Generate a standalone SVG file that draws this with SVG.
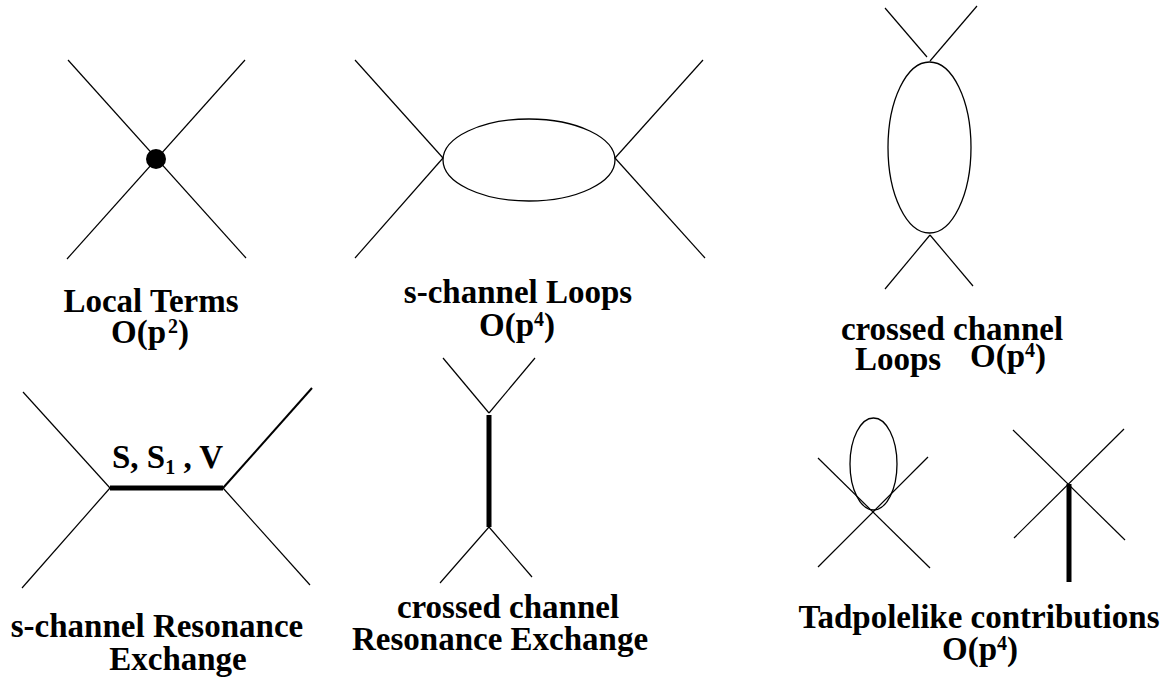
<svg xmlns="http://www.w3.org/2000/svg" width="1170" height="684" viewBox="0 0 1170 684">
<style>
.l{stroke:#000;stroke-width:1.2;fill:none}
.t{stroke:#000;stroke-width:5;fill:none}
.e{stroke:#000;stroke-width:1.3;fill:none}
text{font-family:"Liberation Serif","Times New Roman",serif;font-weight:bold;font-size:33px;fill:#000}
.sup{font-size:20px}
</style>
<rect width="1170" height="684" fill="#fff"/>
<g id="connectors">
<line class="l" x1="68" y1="60" x2="246" y2="258"/>
<line class="l" x1="245" y1="60" x2="67" y2="259"/>
<line class="l" x1="355" y1="60" x2="443" y2="158"/>
<line class="l" x1="443" y1="158" x2="355" y2="258"/>
<line class="l" x1="615" y1="158" x2="703" y2="60"/>
<line class="l" x1="615" y1="158" x2="705" y2="258"/>
<line class="l" x1="885" y1="8" x2="927" y2="57"/>
<line class="l" x1="977" y1="6" x2="930" y2="61"/>
<line class="l" x1="930" y1="235" x2="885" y2="289"/>
<line class="l" x1="930" y1="235" x2="973" y2="286"/>
<line class="l" x1="23" y1="392" x2="110" y2="488"/>
<line class="l" x1="110" y1="488" x2="22" y2="588"/>
<line class="l" x1="223" y1="488" x2="312" y2="388" style="stroke-width:2"/>
<line class="l" x1="223" y1="488" x2="310" y2="585"/>
<line class="t" x1="110" y1="488" x2="223" y2="488"/>
<line class="l" x1="443" y1="358" x2="489" y2="413"/>
<line class="l" x1="535" y1="358" x2="489" y2="413"/>
<line class="t" x1="489" y1="415" x2="489" y2="527"/>
<line class="l" x1="489" y1="527" x2="440" y2="583"/>
<line class="l" x1="489" y1="527" x2="532" y2="577"/>
<line class="l" x1="818" y1="458" x2="930" y2="568"/>
<line class="l" x1="928" y1="457" x2="818" y2="567"/>
<line class="l" x1="1013" y1="430" x2="1125" y2="540"/>
<line class="l" x1="1124" y1="429" x2="1014" y2="538"/>
<line class="t" x1="1069" y1="484" x2="1069" y2="582"/>
</g>
<g id="local-terms">
<circle cx="156" cy="159" r="10" fill="#000"/>
<text x="151" y="312" text-anchor="middle">Local Terms</text>
<text x="150" y="343" text-anchor="middle">O(p<tspan class="sup" dx="2" dy="-10">2</tspan><tspan dy="10">)</tspan></text>
</g>
<g id="s-channel-loops">
<ellipse class="e" cx="529" cy="160" rx="86" ry="41"/>
<text x="518" y="303" text-anchor="middle">s-channel Loops</text>
<text x="517" y="336" text-anchor="middle">O(p<tspan class="sup" dy="-10">4</tspan><tspan dy="10">)</tspan></text>
</g>
<g id="crossed-channel-loops">
<ellipse class="e" cx="929.5" cy="147.5" rx="41.5" ry="85.5"/>
<text x="952" y="340" text-anchor="middle">crossed channel</text>
<text x="855" y="370">Loops</text>
<text x="970" y="367">O(p<tspan class="sup" dy="-10">4</tspan><tspan dy="10">)</tspan></text>
</g>
<g id="s-channel-resonance">
<text x="112" y="468">S, S<tspan class="sup" dy="6">1</tspan><tspan dy="-6"> , V</tspan></text>
<text x="157" y="637" text-anchor="middle">s-channel Resonance</text>
<text x="178" y="670" text-anchor="middle">Exchange</text>
</g>
<g id="crossed-channel-resonance">
<text x="508" y="618" text-anchor="middle">crossed channel</text>
<text x="500" y="650" text-anchor="middle">Resonance Exchange</text>
</g>
<g id="tadpole">
<ellipse class="e" cx="873.5" cy="464" rx="23.5" ry="46"/>
<text x="979" y="628" text-anchor="middle">Tadpolelike contributions</text>
<text x="980" y="660" text-anchor="middle">O(p<tspan class="sup" dy="-10">4</tspan><tspan dy="10">)</tspan></text>
</g>
</svg>
